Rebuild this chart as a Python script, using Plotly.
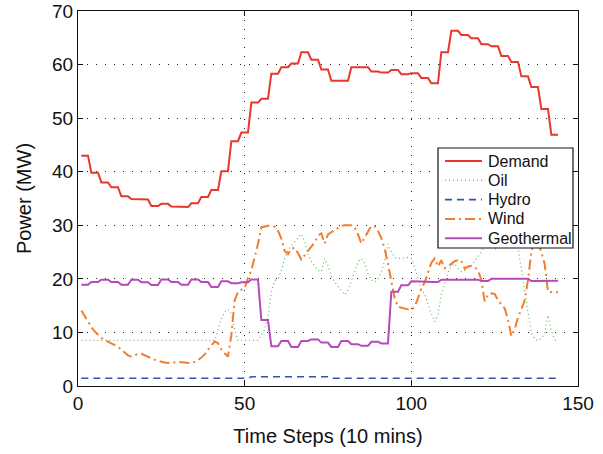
import plotly.graph_objects as go

# Time axis: 144 ten-minute steps (one day)
time_steps = list(range(1, 145))

# Demand (MW), half-hourly values held over three 10-minute steps
demand = [
    43.0, 43.0, 43.0, 39.8, 39.8, 39.8, 38.0, 38.0, 38.0, 37.1, 37.1, 37.1,
    35.4, 35.4, 35.4, 34.9, 34.9, 34.9, 34.8, 34.8, 34.8, 33.6, 33.6, 33.6,
    34.0, 34.0, 34.0, 33.5, 33.5, 33.5, 33.4, 33.4, 33.4, 34.1, 34.1, 34.1,
    35.3, 35.3, 35.3, 36.6, 36.6, 36.6, 40.1, 40.1, 40.1, 45.7, 45.7, 45.7,
    47.3, 47.3, 47.3, 52.9, 52.9, 52.9, 53.6, 53.6, 53.6, 58.3, 58.3, 58.3,
    59.5, 59.5, 59.5, 60.2, 60.2, 60.2, 62.3, 62.3, 62.3, 60.9, 60.9, 60.9,
    59.1, 59.1, 59.1, 57.0, 57.0, 57.0, 57.0, 57.0, 57.0, 59.5, 59.5, 59.5,
    59.5, 59.5, 59.5, 58.7, 58.7, 58.7, 58.5, 58.5, 58.5, 59.0, 59.0, 59.0,
    58.2, 58.2, 58.2, 58.4, 58.4, 58.4, 57.5, 57.5, 57.5, 56.5, 56.5, 56.5,
    62.3, 62.3, 62.3, 66.3, 66.3, 66.3, 65.5, 65.5, 65.5, 64.9, 64.9, 64.9,
    63.8, 63.8, 63.8, 63.4, 63.4, 63.4, 61.6, 61.6, 61.6, 60.5, 60.5, 60.5,
    57.8, 57.8, 57.8, 55.8, 55.8, 55.8, 51.7, 51.7, 51.7, 46.9, 46.9, 46.9,
]

# Oil generation (MW)
oil = [
    8.5, 8.5, 8.5, 8.5, 8.5, 8.5, 8.5, 8.5, 8.5, 8.5, 8.5, 8.5,
    8.5, 8.5, 8.5, 8.5, 8.5, 8.5, 8.5, 8.5, 8.5, 8.5, 8.5, 8.5,
    8.5, 8.5, 8.5, 8.5, 8.5, 8.5, 8.5, 8.5, 8.5, 8.5, 8.5, 8.5,
    8.5, 8.5, 8.5, 8.5, 8.5, 10.5, 12.6, 13.8, 14.3, 13.5, 10.5, 8.5,
    8.5, 8.5, 8.5, 8.5, 8.5, 8.5, 9.5, 10.5, 12.9, 17.5, 19.6, 20.0,
    21.5, 23.8, 25.4, 26.2, 26.9, 27.6, 28.4, 27.0, 24.5, 23.2, 22.4, 21.6,
    21.3, 23.8, 22.5, 20.5, 19.4, 18.6, 17.9, 17.0, 17.9, 19.5, 21.3, 23.2,
    23.8, 22.9, 20.9, 19.8, 19.4, 20.0, 21.3, 23.5, 26.5, 25.0, 24.0, 23.8,
    23.8, 23.9, 24.0, 23.8, 22.2, 20.0, 18.0, 17.2, 15.3, 13.5, 12.0, 13.4,
    17.0, 19.0, 21.2, 22.4, 22.8, 22.0, 21.4, 21.5, 22.2, 22.6, 23.2, 24.2,
    25.0, 26.2, 26.8, 26.6, 25.5, 25.8, 26.8, 27.5, 27.8, 27.4, 26.8, 25.8,
    21.5, 18.0, 13.8, 10.0, 8.7, 8.5, 8.9, 9.8, 13.2, 10.4, 8.6, 8.5,
]

# Hydro generation (MW)
hydro = [
    1.45, 1.45, 1.45, 1.45, 1.45, 1.45, 1.45, 1.45, 1.45, 1.45, 1.45, 1.45,
    1.45, 1.45, 1.45, 1.45, 1.45, 1.45, 1.45, 1.45, 1.45, 1.45, 1.45, 1.45,
    1.45, 1.45, 1.45, 1.45, 1.45, 1.45, 1.45, 1.45, 1.45, 1.45, 1.45, 1.45,
    1.45, 1.45, 1.45, 1.45, 1.45, 1.45, 1.45, 1.45, 1.45, 1.45, 1.45, 1.45,
    1.45, 1.45, 1.45, 1.72, 1.72, 1.72, 1.72, 1.72, 1.72, 1.72, 1.72, 1.72,
    1.72, 1.72, 1.72, 1.72, 1.72, 1.72, 1.72, 1.72, 1.72, 1.72, 1.72, 1.72,
    1.72, 1.72, 1.72, 1.45, 1.45, 1.45, 1.45, 1.45, 1.45, 1.45, 1.45, 1.45,
    1.45, 1.45, 1.45, 1.45, 1.45, 1.45, 1.45, 1.45, 1.45, 1.45, 1.45, 1.45,
    1.45, 1.45, 1.45, 1.45, 1.45, 1.45, 1.45, 1.45, 1.45, 1.45, 1.45, 1.45,
    1.45, 1.45, 1.45, 1.45, 1.45, 1.45, 1.45, 1.45, 1.45, 1.45, 1.45, 1.45,
    1.45, 1.45, 1.45, 1.45, 1.45, 1.45, 1.45, 1.45, 1.45, 1.45, 1.45, 1.45,
    1.45, 1.45, 1.45, 1.45, 1.45, 1.45, 1.45, 1.45, 1.45, 1.45, 1.45, 1.45,
]

# Wind generation (MW)
wind = [
    14.1, 13.0, 12.0, 11.0, 10.2, 9.6, 9.0, 8.6, 8.3, 8.0, 7.6, 7.3,
    6.8, 6.2, 5.7, 5.5, 5.8, 6.0, 6.0, 5.7, 5.4, 5.1, 4.9, 4.7,
    4.5, 4.4, 4.3, 4.3, 4.4, 4.5, 4.5, 4.4, 4.3, 4.3, 4.5, 4.8,
    5.3, 5.9, 6.8, 7.6, 8.3, 8.0, 6.8, 6.1, 5.5, 9.5, 16.0, 17.6,
    18.0, 18.2, 20.2, 21.6, 23.8, 26.5, 29.6, 29.8, 29.9, 29.9, 29.7, 29.0,
    27.5, 25.2, 24.6, 25.6, 25.8, 24.8, 23.6, 24.4, 25.3, 26.0, 26.8, 28.0,
    28.5, 26.6, 28.3, 28.7, 29.2, 29.5, 29.9, 30.0, 30.0, 30.0, 29.6, 28.3,
    26.6, 27.8, 29.0, 29.9, 29.8, 28.9, 27.6, 25.6, 22.8, 19.3, 16.4, 14.8,
    14.6, 14.5, 14.3, 14.2, 14.8, 16.4, 18.2, 19.3, 21.3, 23.0, 23.8, 22.3,
    23.5, 22.0, 22.3, 22.8, 23.3, 23.5, 23.4, 21.9, 22.3, 22.4, 22.2, 21.6,
    19.8, 15.8, 17.1, 17.3, 17.2, 16.0, 15.2, 14.5, 12.4, 9.3, 10.6, 12.8,
    14.3, 16.0, 19.8, 25.0, 28.0, 27.0, 25.0, 22.8, 17.6, 17.5, 17.5, 17.5,
]

# Geothermal generation (MW), half-hourly values held over three steps
geothermal = [
    18.9, 18.9, 18.9, 19.4, 19.4, 19.4, 19.85, 19.85, 19.85, 19.4, 19.4, 19.4,
    18.9, 18.9, 18.9, 19.85, 19.85, 19.85, 19.35, 19.35, 19.35, 18.85, 18.85, 18.85,
    19.9, 19.9, 19.9, 19.4, 19.4, 19.4, 18.9, 18.9, 18.9, 19.9, 19.9, 19.9,
    19.4, 19.4, 19.4, 18.5, 18.5, 18.5, 19.55, 19.55, 19.55, 19.2, 19.2, 19.2,
    19.35, 19.35, 19.35, 19.9, 19.9, 19.9, 12.3, 12.3, 12.3, 7.4, 7.4, 7.4,
    8.4, 8.4, 8.4, 7.3, 7.3, 7.3, 8.4, 8.4, 8.4, 8.7, 8.7, 8.7,
    8.1, 8.1, 8.1, 7.3, 7.3, 7.3, 8.4, 8.4, 8.4, 7.8, 7.8, 7.8,
    7.5, 7.5, 7.5, 8.25, 8.25, 8.25, 7.95, 7.95, 7.95, 17.6, 17.6, 17.6,
    18.8, 18.8, 18.8, 19.55, 19.55, 19.55, 19.45, 19.45, 19.45, 19.4, 19.4, 19.4,
    19.85, 19.85, 19.85, 19.85, 19.85, 19.85, 19.85, 19.85, 19.85, 19.85, 19.85, 19.85,
    19.6, 19.6, 19.6, 20.0, 20.0, 20.0, 20.0, 20.0, 20.0, 20.0, 20.0, 20.0,
    20.0, 20.0, 20.0, 19.6, 19.6, 19.6, 19.6, 19.6, 19.6, 19.65, 19.65, 19.65,
]

series_names = ["Demand", "Oil", "Hydro", "Wind", "Geothermal"]
x_ticks = [0, 50, 100, 150]
y_ticks = [0, 10, 20, 30, 40, 50, 60, 70]

FONT = "Liberation Sans, Arial, Helvetica, sans-serif"
INK = "#111111"

styles = {
    "Demand": dict(color="#e8372b", width=2, dash="solid"),
    "Oil": dict(color="#5fb85a", width=1.2, dash="1px,3px"),
    "Hydro": dict(color="#3553b0", width=1.6, dash="7px,5px"),
    "Wind": dict(color="#f27d2e", width=2, dash="10px,4px,2px,4px"),
    "Geothermal": dict(color="#b64ab9", width=2, dash="solid"),
}
values = {"Demand": demand, "Oil": oil, "Hydro": hydro,
          "Wind": wind, "Geothermal": geothermal}

fig = go.Figure()
for name in series_names:
    fig.add_trace(go.Scatter(x=time_steps, y=values[name], mode="lines",
                             name=name, line=styles[name], showlegend=False))

axis_common = dict(
    showline=True, linecolor=INK, linewidth=1.3, mirror="ticks",
    ticks="inside", ticklen=5, tickwidth=1, tickcolor=INK,
    showgrid=True, gridcolor="#222222", gridwidth=1, griddash="1px,8px",
    zeroline=False, automargin=False,
    tickfont=dict(family=FONT, size=19, color=INK),
)

fig.update_xaxes(range=[0, 150], tickvals=x_ticks, ticktext=[str(v) for v in x_ticks],
                 title=dict(text="Time Steps (10 mins)",
                            font=dict(family=FONT, size=20, color=INK),
                            standoff=16),
                 **axis_common)
fig.update_yaxes(range=[0, 70], tickvals=y_ticks, ticktext=[str(v) for v in y_ticks],
                 title=dict(text="Power (MW)",
                            font=dict(family=FONT, size=20, color=INK),
                            standoff=14),
                 **axis_common)

# Boxed legend in the plot's right half (paper coordinates; plot area spans
# 500 x 375 px, so pixel offsets are converted through these helpers)
PLOT_W, PLOT_H = 500.0, 375.0


def px_x(px):
    return px / PLOT_W


def px_y(py):
    return 1.0 - py / PLOT_H


box_left, box_right, box_top, box_bottom = 360, 495, 137, 237
row_first, row_step = 150, 19.3
sample_x0, sample_x1, text_x = 367, 404, 408

shapes = [dict(type="rect", xref="paper", yref="paper", layer="above",
               x0=px_x(box_left), x1=px_x(box_right),
               y0=px_y(box_bottom), y1=px_y(box_top),
               fillcolor="white", line=dict(color=INK, width=1.2))]
annotations = []
for i, name in enumerate(series_names):
    row_y = row_first + i * row_step
    st = styles[name]
    shapes.append(dict(type="line", xref="paper", yref="paper", layer="above",
                       x0=px_x(sample_x0), x1=px_x(sample_x1),
                       y0=px_y(row_y), y1=px_y(row_y),
                       line=dict(color=st["color"], width=st["width"], dash=st["dash"])))
    annotations.append(dict(text=name, xref="paper", yref="paper",
                            x=px_x(text_x), y=px_y(row_y),
                            xanchor="left", yanchor="middle", showarrow=False,
                            font=dict(family=FONT, size=16, color=INK)))

fig.update_layout(
    width=603, height=454,
    margin=dict(l=78, r=25, t=11, b=68),
    plot_bgcolor="white", paper_bgcolor="white",
    font=dict(family=FONT, color=INK),
    showlegend=False,
    shapes=shapes,
    annotations=annotations,
)

fig.write_html("out.html")
